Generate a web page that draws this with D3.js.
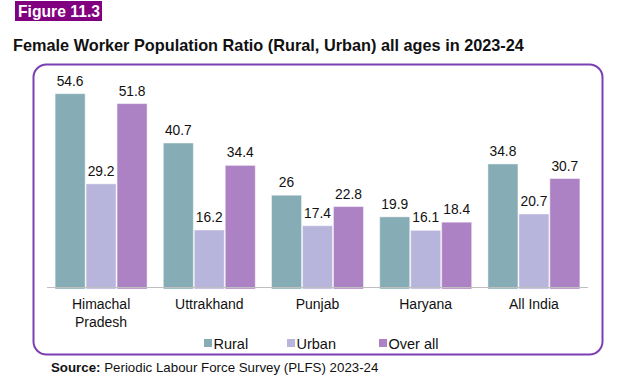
<!DOCTYPE html>
<html>
<head>
<meta charset="utf-8">
<script src="https://cdn.jsdelivr.net/npm/d3@7"></script>
<style>
  html, body { margin: 0; padding: 0; background: #fff; }
  svg { display: block; font-family: "Liberation Sans", Arial, sans-serif; }
</style>
</head>
<body>
<svg id="chart" width="640" height="382"></svg>
<script>
const categories = ["Himachal Pradesh", "Uttrakhand", "Punjab", "Haryana", "All India"];
const categoryLines = [["Himachal", "Pradesh"], ["Uttrakhand"], ["Punjab"], ["Haryana"], ["All India"]];
const seriesNames = ["Rural", "Urban", "Over all"];
const rural = [54.6, 40.7, 26, 19.9, 34.8];
const urban = [29.2, 16.2, 17.4, 16.1, 20.7];
const overall = [51.8, 34.4, 22.8, 18.4, 30.7];
const colors = ["#86adb5", "#b8b5dc", "#ad82c4"];

const seriesValues = [rural, urban, overall];
const svg = d3.select("#chart");

// Figure label
svg.append("rect").attr("x", 15).attr("y", 1).attr("width", 87).attr("height", 20).attr("fill", "#800080");
svg.append("text").attr("x", 18).attr("y", 17).attr("fill", "#fff")
  .attr("font-size", 17).attr("font-weight", "bold")
  .attr("textLength", 82).attr("lengthAdjust", "spacingAndGlyphs").text("Figure 11.3");

// Title
svg.append("text").attr("x", 13).attr("y", 50.5).attr("fill", "#111")
  .attr("font-size", 16.3).attr("font-weight", "bold")
  .text("Female Worker Population Ratio (Rural, Urban) all ages in 2023-24");

// Frame
svg.append("rect").attr("x", 33.5).attr("y", 64.5).attr("width", 569).attr("height", 290)
  .attr("rx", 13).attr("ry", 13).attr("fill", "none").attr("stroke", "#7b3fb3").attr("stroke-width", 2);

const baseY = 287.5;
const y = d3.scaleLinear().domain([0, 60]).range([baseY, baseY - 60 * 3.55]);
const x0 = d3.scaleBand().domain(categories).range([47, 588]).paddingInner(0.15).paddingOuter(0.075);
const x1 = d3.scaleBand().domain(seriesNames).range([0, x0.bandwidth()]).paddingInner(0.03);

const groups = svg.append("g").selectAll("g").data(categories).join("g")
  .attr("transform", d => `translate(${x0(d)},0)`);

groups.each(function(cat, ci) {
  const g = d3.select(this);
  seriesNames.forEach((s, si) => {
    const v = seriesValues[si][ci];
    g.append("rect")
      .attr("x", x1(s)).attr("y", y(v))
      .attr("width", x1.bandwidth()).attr("height", y(0) - y(v) + 1.5)
      .attr("fill", colors[si])
      .attr("stroke", "#ffffff").attr("stroke-opacity", 0.45).attr("stroke-width", 1);
    g.append("text")
      .attr("x", x1(s) + x1.bandwidth() / 2).attr("y", y(v) - 8)
      .attr("text-anchor", "middle").attr("font-size", 13.8).attr("fill", "#111")
      .text(String(v));
  });
});

// Axis line
svg.append("line").attr("x1", 47).attr("x2", 588).attr("y1", baseY).attr("y2", baseY)
  .attr("stroke", "#bfbfbf").attr("stroke-width", 1);

// Category labels
categories.forEach((c, i) => {
  const t = svg.append("text").attr("text-anchor", "middle").attr("font-size", 14).attr("fill", "#111");
  categoryLines[i].forEach((line, li) => {
    t.append("tspan").attr("x", x0(c) + x0.bandwidth() / 2).attr("y", 309 + li * 17.5).text(line);
  });
});

// Legend
const legendX = [204, 287, 379];
seriesNames.forEach((s, i) => {
  svg.append("rect").attr("x", legendX[i]).attr("y", 339).attr("width", 8).attr("height", 8).attr("fill", colors[i]);
  svg.append("text").attr("x", legendX[i] + 9.5).attr("y", 348.5).attr("font-size", 14.5).attr("fill", "#111").text(s);
});

// Source
const src = svg.append("text").attr("x", 51).attr("y", 372).attr("font-size", 13.3).attr("fill", "#111");
src.append("tspan").attr("font-weight", "bold").text("Source:");
src.append("tspan").text(" Periodic Labour Force Survey (PLFS) 2023-24");
</script>
</body>
</html>
